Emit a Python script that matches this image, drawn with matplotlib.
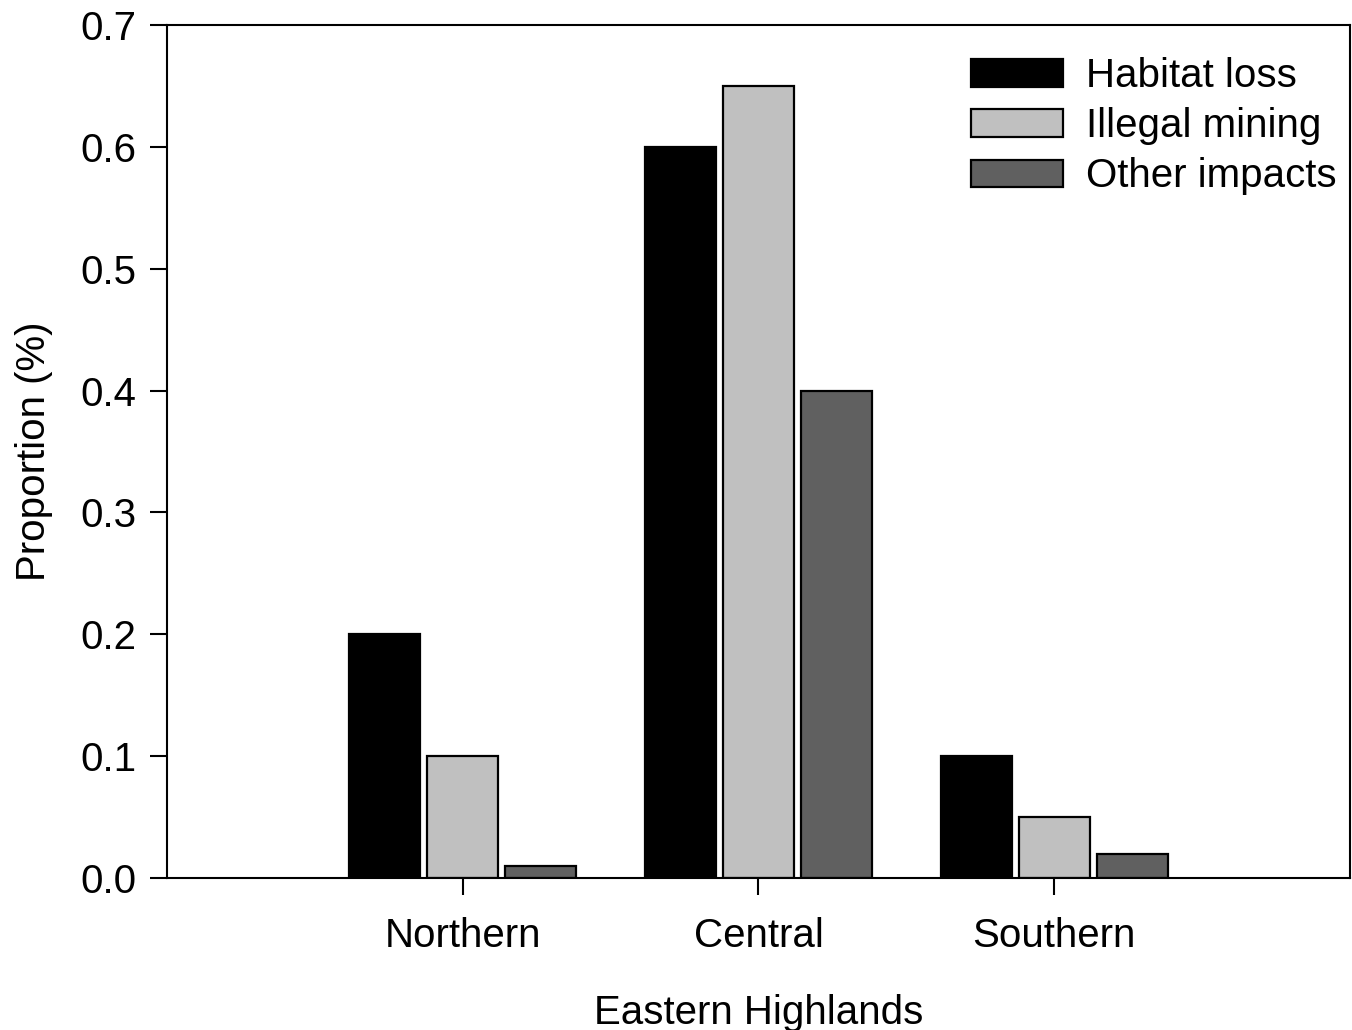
import numpy as np
import matplotlib
matplotlib.use("Agg")
import matplotlib.pyplot as plt
from matplotlib.patches import Patch

plt.rcParams['font.family'] = ['Liberation Sans', 'DejaVu Sans']

regions = ["Northern", "Central", "Southern"]
series_names = ["Habitat loss", "Illegal mining", "Other impacts"]
habitat_loss = [0.20, 0.60, 0.10]
illegal_mining = [0.10, 0.65, 0.05]
other_impacts = [0.01, 0.40, 0.02]
yticks = [0.0, 0.1, 0.2, 0.3, 0.4, 0.5, 0.6, 0.7]
colors = ["#000000", "#c0c0c0", "#606060"]

fig = plt.figure(figsize=(13.52, 10.30), dpi=100)
ax = fig.add_axes([0.1235, 0.1476, 0.875, 0.828])

x = np.arange(len(regions))
width = 0.24
offset = 0.264
for i, vals in enumerate([habitat_loss, illegal_mining, other_impacts]):
    ax.bar(x + (i - 1) * offset, vals, width, color=colors[i],
           edgecolor="black", linewidth=1.6, label=series_names[i])

ax.set_xlim(-1, 3)
ax.set_ylim(0, 0.7)
ax.set_xticks(x)
ax.set_xticklabels(regions)
ax.set_yticks(yticks)
ax.set_yticklabels(["%.1f" % t for t in yticks])
ax.tick_params(axis="both", direction="out", length=12, width=1.5,
               labelsize=29)
ax.tick_params(axis="y", pad=10)
ax.tick_params(axis="x", pad=16)
for s in ax.spines.values():
    s.set_linewidth(1.5)

ax.set_ylabel("Proportion (%)", fontsize=29, labelpad=20)
ax.set_xlabel("Eastern Highlands", fontsize=29, labelpad=28)

handles = [Patch(facecolor=colors[i], edgecolor="black", linewidth=1.6)
           for i in range(3)]
ax.legend(handles, series_names, loc="upper right", frameon=False,
          fontsize=29, handlelength=2.3, handleheight=0.67,
          handletextpad=0.57, labelspacing=0.3,
          bbox_to_anchor=(1.006, 0.986), borderaxespad=0.1)

fig.savefig("out.png", dpi=100)
